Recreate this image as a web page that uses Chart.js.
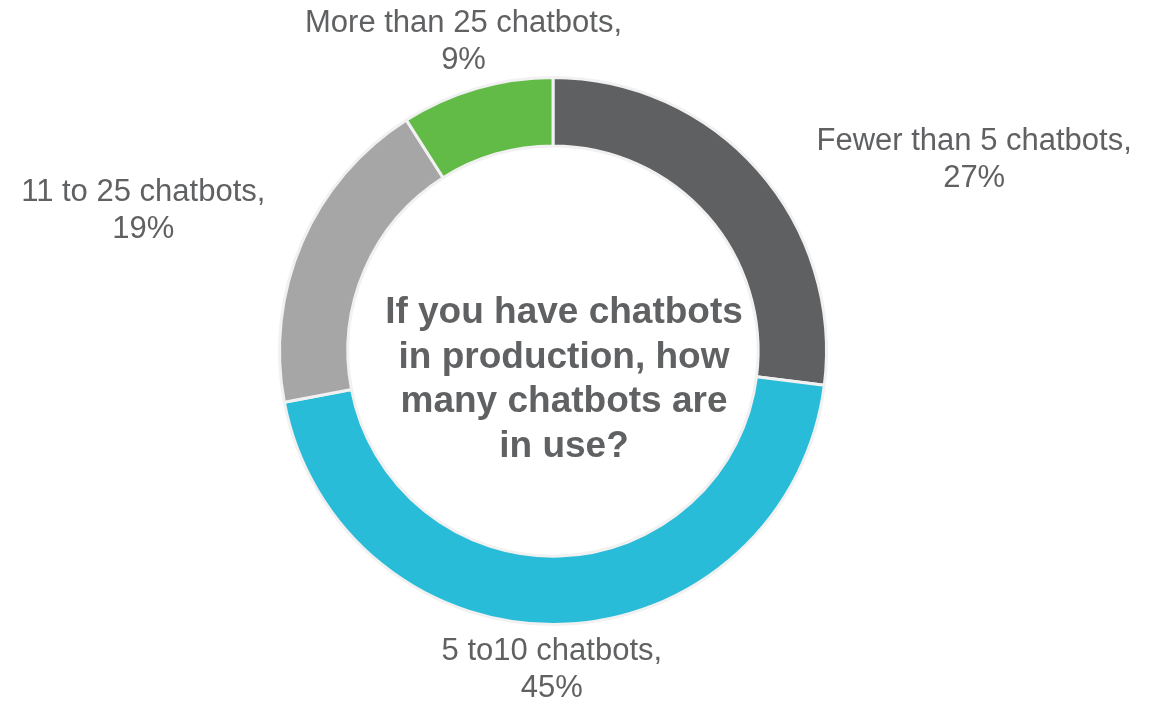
<!DOCTYPE html>
<html>
<head>
<meta charset="utf-8">
<title>Chatbots in production</title>
<script src="https://cdn.jsdelivr.net/npm/chart.js@4.4.1/dist/chart.umd.min.js"></script>
<style>
  html, body { margin: 0; padding: 0; background: #ffffff; }
  #wrap { width: 1168px; height: 701px; position: relative; }
</style>
</head>
<body>
<div id="wrap"><canvas id="chart" width="1168" height="701"></canvas></div>
<script>
// Survey answers, clockwise from 12 o'clock
const categories = ['Fewer than 5 chatbots,', '5 to10 chatbots,', '11 to 25 chatbots,', 'More than 25 chatbots,'];
const shares = [27, 45, 19, 9];
const sliceColors = ['#5f6062', '#29bcd8', '#a6a6a6', '#62bb46'];
const questionLines = ['If you have chatbots', 'in production, how', 'many chatbots are', 'in use?'];

const FONT = '"Liberation Sans", Arial, sans-serif';
const TEXT = '#606163';

// nudges for each outside label, relative to a point just beyond the ring
const labelNudge = [[186, 25], [-11, 14], [-122, -7], [-2, 1]];

// Draws "name,\nNN%" labels outside each slice
const outsideLabels = {
  id: 'outsideLabels',
  afterDatasetsDraw(chart) {
    const ctx = chart.ctx;
    const meta = chart.getDatasetMeta(0);
    ctx.save();
    ctx.font = '31px ' + FONT;
    ctx.fillStyle = TEXT;
    ctx.textAlign = 'center';
    ctx.textBaseline = 'alphabetic';
    meta.data.forEach((arc, i) => {
      const mid = (arc.startAngle + arc.endAngle) / 2;
      const r = arc.outerRadius + 40;
      const x = arc.x + Math.cos(mid) * r + labelNudge[i][0];
      const y = arc.y + Math.sin(mid) * r + labelNudge[i][1];
      ctx.fillText(categories[i], x, y - 18.5);
      ctx.fillText(shares[i] + '%', x, y + 18.5);
    });
    ctx.restore();
  }
};

// Question text in the hole
const centerText = {
  id: 'centerText',
  afterDraw(chart) {
    const ctx = chart.ctx;
    const arc = chart.getDatasetMeta(0).data[0];
    const cx = arc.x + 11;
    const cy = arc.y + 39;
    const lh = 44.7;
    ctx.save();
    ctx.font = 'bold 37px ' + FONT;
    ctx.fillStyle = TEXT;
    ctx.textAlign = 'center';
    ctx.textBaseline = 'alphabetic';
    const top = cy - lh * (questionLines.length - 1) / 2;
    questionLines.forEach((line, i) => ctx.fillText(line, cx, top + i * lh));
    ctx.restore();
  }
};

new Chart(document.getElementById('chart'), {
  type: 'doughnut',
  data: {
    labels: categories,
    datasets: [{
      data: shares,
      backgroundColor: sliceColors,
      borderColor: '#f1f1f1',
      borderWidth: 3,
      hoverOffset: 0
    }]
  },
  options: {
    responsive: false,
    animation: false,
    cutout: '75%',
    layout: { padding: { top: 76, bottom: 75, left: 0, right: 62 } },
    plugins: {
      legend: { display: false },
      tooltip: { enabled: false }
    }
  },
  plugins: [outsideLabels, centerText]
});
</script>
</body>
</html>
